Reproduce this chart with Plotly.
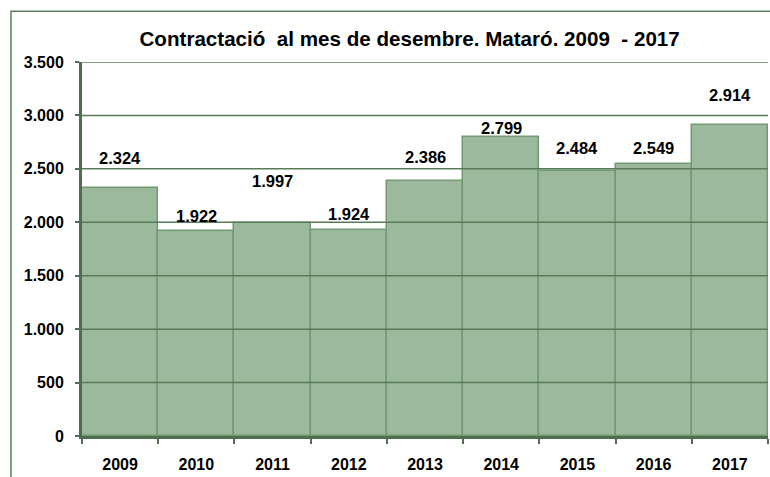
import plotly.graph_objects as go

years = ["2009", "2010", "2011", "2012", "2013", "2014", "2015", "2016", "2017"]
values = [2324, 1922, 1997, 1924, 2386, 2799, 2484, 2549, 2914]
labels = ["2.324", "1.922", "1.997", "1.924", "2.386", "2.799", "2.484", "2.549", "2.914"]
label_shift = [30, 15, 42, 16, 24, 9, 23, 16, 30]
yticks = [0, 500, 1000, 1500, 2000, 2500, 3000, 3500]
ytick_text = ["0", "500", "1.000", "1.500", "2.000", "2.500", "3.000", "3.500"]

FONT = "Liberation Sans, Arial, sans-serif"
GRID = "#587c58"
AX = "#4e6e4e"

fig = go.Figure()
fig.add_trace(go.Bar(
    x=years, y=values,
    marker=dict(color="#9db99d", line=dict(color="#729a72", width=1.5)),
    width=1.0,
    hoverinfo="skip",
))

for i, (v, t, s) in enumerate(zip(values, labels, label_shift)):
    fig.add_annotation(x=i, y=v, xref="x", yref="y", text=f"<b>{t}</b>", showarrow=False,
                       yshift=s, font=dict(family=FONT, size=16.5, color="black"))

for v in yticks[1:]:
    fig.add_shape(type="line", xref="paper", yref="y", x0=0, x1=1, y0=v, y1=v,
                  line=dict(color=GRID, width=1.5), layer="above")

# outer frame
fig.add_shape(type="rect", xref="paper", yref="paper", x0=-0.1035, x1=1.02,
              y0=-0.15, y1=1.136, line=dict(color="#5d7d5d", width=1.5), layer="below")

fig.update_layout(
    width=770, height=477,
    margin=dict(l=82, r=2, t=62, b=41),
    paper_bgcolor="white", plot_bgcolor="white",
    bargap=0,
    showlegend=False,
    title=dict(text="<b>Contractació\u00a0 al mes de desembre. Mataró. 2009\u00a0 - 2017</b>",
               x=0.532, xanchor="center", y=0.918, yanchor="middle",
               font=dict(family=FONT, size=20.6, color="black")),
    font=dict(family=FONT, size=16, color="black"),
)
fig.update_xaxes(
    type="category", range=[-0.5, 8.5],
    showline=True, linecolor=AX, linewidth=3,
    ticks="outside", tickson="boundaries", ticklen=5, tickcolor=AX, tickwidth=2,
    showgrid=False,
    ticklabelstandoff=12,
    tickfont=dict(family=FONT, size=16, color="black", weight="bold"),
)
fig.update_yaxes(
    range=[0, 3500], tickvals=yticks, ticktext=[f"<b>{t}</b>" for t in ytick_text],
    showline=True, linecolor=AX, linewidth=3,
    ticks="outside", ticklen=4, tickcolor=AX, tickwidth=2,
    showgrid=False, zeroline=False, ticklabelstandoff=8,
    tickfont=dict(family=FONT, size=16, color="black"),
)

fig.write_html("out.html")
